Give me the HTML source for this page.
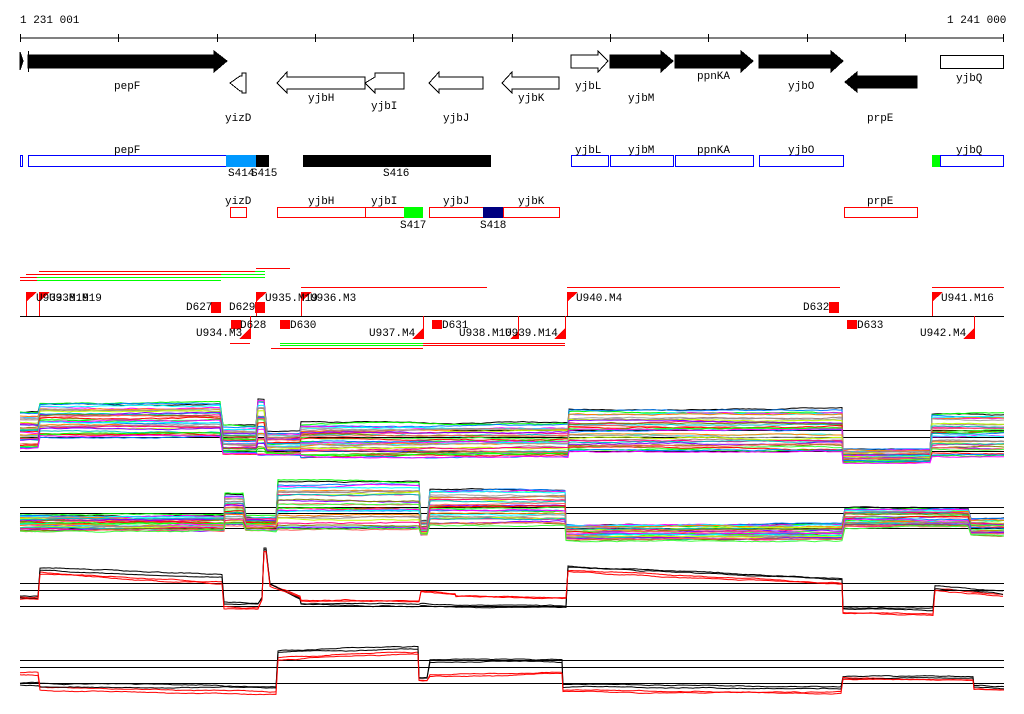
<!DOCTYPE html>
<html><head><meta charset="utf-8"><style>
html,body{margin:0;padding:0;background:#fff}
svg{display:block}
text{font-family:"Liberation Mono","DejaVu Sans Mono",monospace;font-size:11px;fill:#000}
</style></head><body>
<svg id="s" width="1024" height="714" viewBox="0 0 1024 714" xmlns="http://www.w3.org/2000/svg" shape-rendering="crispEdges">
<rect width="1024" height="714" fill="#fff"/>
<text x="20" y="23">1 231 001</text>
<text x="947" y="23">1 241 000</text>
<line x1="20" y1="38" x2="1004" y2="38" stroke="#000"/>
<g stroke="#000"><line x1="20.5" y1="34" x2="20.5" y2="42"/><line x1="118.5" y1="34" x2="118.5" y2="42"/><line x1="217.5" y1="34" x2="217.5" y2="42"/><line x1="315.5" y1="34" x2="315.5" y2="42"/><line x1="413.5" y1="34" x2="413.5" y2="42"/><line x1="512.5" y1="34" x2="512.5" y2="42"/><line x1="610.5" y1="34" x2="610.5" y2="42"/><line x1="708.5" y1="34" x2="708.5" y2="42"/><line x1="807.5" y1="34" x2="807.5" y2="42"/><line x1="905.5" y1="34" x2="905.5" y2="42"/><line x1="1003.5" y1="34" x2="1003.5" y2="42"/></g>
<!-- gene arrows row -->
<g stroke="#000">
<polygon points="20,52 23,61 20,70" fill="#000"/>
<line x1="28.5" y1="51" x2="28.5" y2="72"/>
<polygon points="28,55 214,55 214,51 227,61 214,72 214,68 28,68" fill="#000"/>
<polygon points="246,73 242,73 242,76 240,76 230,83 240,91 242,91 242,93 246,93" fill="#fff"/>
<polygon points="365,77 287,77 287,72 277,83 287,93 287,89 365,89" fill="#fff"/>
<polygon points="404,73 375,73 375,77 365,83 375,93 375,89 404,89" fill="#fff"/>
<polygon points="483,77 439,77 439,72 429,83 439,93 439,89 483,89" fill="#fff"/>
<polygon points="559,77 512,77 512,72 502,83 512,93 512,89 559,89" fill="#fff"/>
<polygon points="571,55 598,55 598,51 608,61 598,72 598,68 571,68" fill="#fff"/>
<polygon points="610,55 661,55 661,51 673,61 661,72 661,68 610,68" fill="#000"/>
<polygon points="675,55 741,55 741,51 753,61 741,72 741,68 675,68" fill="#000"/>
<polygon points="759,55 831,55 831,51 843,61 831,72 831,68 759,68" fill="#000"/>
<polygon points="917,76 857,76 857,72 845,82 857,92 857,88 917,88" fill="#000"/>
<rect x="940.5" y="55.5" width="63" height="13" fill="#fff"/>
</g>
<text x="114" y="89">pepF</text><text x="225" y="121">yizD</text><text x="308" y="101">yjbH</text><text x="371" y="109">yjbI</text><text x="443" y="121">yjbJ</text><text x="518" y="101">yjbK</text><text x="575" y="89">yjbL</text><text x="628" y="101">yjbM</text><text x="697" y="79">ppnKA</text><text x="788" y="89">yjbO</text><text x="867" y="121">prpE</text><text x="956" y="81">yjbQ</text>
<!-- row 2 -->
<g fill="none" stroke="#00f">
<rect x="20.5" y="155.5" width="2" height="11"/>
<rect x="28.5" y="155.5" width="198" height="11"/>
<rect x="571.5" y="155.5" width="37" height="11"/><rect x="610.5" y="155.5" width="63" height="11"/><rect x="675.5" y="155.5" width="78" height="11"/><rect x="759.5" y="155.5" width="84" height="11"/><rect x="940.5" y="155.5" width="63" height="11"/>
</g>
<rect x="226" y="155" width="30" height="12" fill="#0099ff"/>
<rect x="256" y="155" width="13" height="12" fill="#000"/>
<rect x="303" y="155" width="188" height="12" fill="#000"/>
<rect x="932" y="155" width="8" height="12" fill="#00ff00"/>
<text x="114" y="153">pepF</text><text x="575" y="153">yjbL</text><text x="628" y="153">yjbM</text><text x="697" y="153">ppnKA</text><text x="788" y="153">yjbO</text><text x="956" y="153">yjbQ</text>
<text x="228" y="176">S414</text><text x="251" y="176">S415</text><text x="383" y="176">S416</text>
<!-- row 3 -->
<g fill="none" stroke="#f00">
<rect x="230.5" y="207.5" width="16" height="10"/><rect x="277.5" y="207.5" width="88" height="10"/><rect x="365.5" y="207.5" width="39" height="10"/><rect x="429.5" y="207.5" width="54" height="10"/><rect x="503.5" y="207.5" width="56" height="10"/><rect x="844.5" y="207.5" width="73" height="10"/>
</g>
<rect x="404" y="207" width="19" height="11" fill="#00ff00"/>
<rect x="483" y="207" width="20" height="11" fill="#000080"/>
<text x="225" y="204">yizD</text><text x="308" y="204">yjbH</text><text x="371" y="204">yjbI</text><text x="443" y="204">yjbJ</text><text x="518" y="204">yjbK</text><text x="867" y="204">prpE</text>
<text x="400" y="228">S417</text><text x="480" y="228">S418</text>
<!-- features -->
<g stroke-width="1">
<line x1="39" y1="271.5" x2="255" y2="271.5" stroke="#f00"/><line x1="255" y1="271.5" x2="265" y2="271.5" stroke="#0f0"/><line x1="256" y1="268.5" x2="290" y2="268.5" stroke="#f00"/>
<line x1="26" y1="274.5" x2="221" y2="274.5" stroke="#f00"/><line x1="221" y1="274.5" x2="265" y2="274.5" stroke="#0f0"/>
<line x1="20" y1="277.5" x2="265" y2="277.5" stroke="#0f0"/><line x1="20" y1="277.5" x2="37" y2="277.5" stroke="#f00"/>
<line x1="20" y1="280.5" x2="221" y2="280.5" stroke="#0f0"/><line x1="20" y1="280.5" x2="37" y2="280.5" stroke="#f00"/>
<line x1="301" y1="287.5" x2="487" y2="287.5" stroke="#f00"/><line x1="567" y1="287.5" x2="840" y2="287.5" stroke="#f00"/><line x1="932" y1="287.5" x2="1004" y2="287.5" stroke="#f00"/>
<line x1="230" y1="343.5" x2="250" y2="343.5" stroke="#f00"/>
<line x1="280" y1="343.5" x2="423" y2="343.5" stroke="#0f0"/><line x1="280" y1="345.5" x2="423" y2="345.5" stroke="#0f0"/><line x1="423" y1="343.5" x2="565" y2="343.5" stroke="#f00"/><line x1="423" y1="345.5" x2="512" y2="345.5" stroke="#f00"/>
<line x1="271" y1="348.5" x2="423" y2="348.5" stroke="#f00"/><line x1="512" y1="345.5" x2="565" y2="345.5" stroke="#f00"/>
</g>
<line x1="20" y1="316.5" x2="1004" y2="316.5" stroke="#000"/>
<g fill="#f00" stroke="#f00">
<line x1="26.5" y1="292" x2="26.5" y2="316"/><polygon points="26,292 37,292 26,302" stroke="none"/>
<line x1="39.5" y1="292" x2="39.5" y2="316"/><polygon points="39,292 50,292 39,302" stroke="none"/>
<rect x="211" y="302" width="10" height="11" stroke="none"/><rect x="255" y="302" width="10" height="11" stroke="none"/>
<line x1="256.5" y1="292" x2="256.5" y2="316"/><polygon points="256,292 267,292 256,302" stroke="none"/>
<line x1="301.5" y1="292" x2="301.5" y2="316"/><polygon points="301,292 312,292 301,302" stroke="none"/>
<line x1="567.5" y1="292" x2="567.5" y2="316"/><polygon points="567,292 578,292 567,302" stroke="none"/>
<rect x="829" y="302" width="10" height="11" stroke="none"/>
<line x1="932.5" y1="292" x2="932.5" y2="316"/><polygon points="932,292 943,292 932,302" stroke="none"/>
<rect x="231" y="320" width="10" height="9" stroke="none"/><rect x="280" y="320" width="10" height="9" stroke="none"/><rect x="432" y="320" width="10" height="9" stroke="none"/><rect x="847" y="320" width="10" height="9" stroke="none"/>
<line x1="250.5" y1="316" x2="250.5" y2="339"/><polygon points="250,328 250,339 239,339" stroke="none"/>
<line x1="423.5" y1="316" x2="423.5" y2="339"/><polygon points="423,328 423,339 412,339" stroke="none"/>
<line x1="565.5" y1="316" x2="565.5" y2="339"/><polygon points="565,328 565,339 554,339" stroke="none"/>
<line x1="974.5" y1="316" x2="974.5" y2="339"/><polygon points="974,328 974,339 963,339" stroke="none"/>
<line x1="518.5" y1="316" x2="518.5" y2="339"/><polygon points="518,332 518,339 510,339" stroke="none"/>
</g>
<text x="36" y="301">U933.M19</text><text x="49" y="301">U938.M19</text>
<text x="186" y="310">D627</text><text x="229" y="310">D629</text><text x="265" y="301">U935.M19</text><text x="310" y="301">U936.M3</text>
<text x="576" y="301">U940.M4</text><text x="803" y="310">D632</text><text x="941" y="301">U941.M16</text>
<text x="196" y="336">U934.M3</text><text x="240" y="328">D628</text><text x="290" y="328">D630</text><text x="369" y="336">U937.M4</text><text x="442" y="328">D631</text><text x="459" y="336">U938.M10</text><text x="505" y="336">U939.M14</text><text x="857" y="328">D633</text><text x="920" y="336">U942.M4</text>
<!-- plot axes -->
<g stroke="#000">
<line x1="450" y1="430.5" x2="1004" y2="430.5"/><line x1="20" y1="437.5" x2="1004" y2="437.5"/><line x1="20" y1="451.5" x2="1004" y2="451.5"/>
<line x1="20" y1="507.5" x2="1004" y2="507.5"/><line x1="20" y1="513.5" x2="1004" y2="513.5"/><line x1="20" y1="528.5" x2="1004" y2="528.5"/>
<line x1="20" y1="583.5" x2="1004" y2="583.5"/><line x1="20" y1="590.5" x2="1004" y2="590.5"/><line x1="20" y1="606.5" x2="1004" y2="606.5"/>
<line x1="20" y1="660.5" x2="1004" y2="660.5"/><line x1="20" y1="667.5" x2="1004" y2="667.5"/><line x1="20" y1="683.5" x2="1004" y2="683.5"/>
</g>
<g id="plots" fill="none" shape-rendering="auto"></g>
</svg>
<script>
var seed=12345;function r(){seed=(seed*16807)%2147483647;return seed/2147483647;}
var g=document.getElementById('plots');var NS='http://www.w3.org/2000/svg';
function pl(pts,col){var p=document.createElementNS(NS,'polyline');p.setAttribute('points',pts.join(' '));p.setAttribute('stroke',col);p.setAttribute('stroke-width','1');g.appendChild(p);}
var cols=['#f00','#0f0','#0080ff','#f0f','#0ff','#ff8000','#a0a0a0','#a08080','#c0ff00','#ff0080','#00c0c0','#8000ff','#808000','#ff6060','#40ff40'];
function band(segs,N,topc){for(var i=0;i<N;i++){var f=i/(N-1);var pts=[];var j=0;
for(var s=0;s<segs.length;s++){var S=segs[s];var ff=Math.min(1,Math.max(0,f+(r()-0.5)*0.1));
for(var x=S[0];x<=S[1];x+=3){j+=(r()-0.5)*0.8;j=Math.max(-1.5,Math.min(1.5,j));pts.push(x+','+(S[2]+(S[3]-S[2])*ff+j).toFixed(1));}}
pl(pts,i==0?topc:cols[i%cols.length]);}}
band([[20,39,412,450],[40,222,403,438],[223,256,426,455],[258,266,397,455],[267,300,432,456],[301,568,423,458],[569,842,409,452],[843,931,450,462],[932,1004,414,456]],34,'#000');
band([[20,224,515,531],[225,245,494,526],[246,277,516,531],[278,420,481,530],[421,429,520,535],[430,565,489,525],[566,844,524,541],[845,970,508,528],[971,1004,519,536]],30,'#000');
function lines(defs){defs.forEach(function(d){var pts=[];var j=0;d.s.forEach(function(S){for(var x=S[0];x<=S[1];x+=2){var t=(x-S[0])/Math.max(1,S[1]-S[0]);j+=(r()-0.5)*0.6;j=Math.max(-1,Math.min(1,j));pts.push(x+','+(S[2]+(S[3]-S[2])*t+j).toFixed(1));}});pl(pts,d.c);});}
var p3=[];[0,2].forEach(function(o){p3.push({c:'#000',s:[[20,39,596+o,596+o],[40,223,568+o,575+o],[224,258,602+o,603+o],[262,262,598,598],[264,266,549,549],[270,300,583+o,598+o],[301,420,603+o,605+o],[421,455,604+o,606+o],[456,567,606+o,606+o],[568,842,566+o,578+o],[843,934,607+o,608+o],[935,1004,586+o,592+o]]});
p3.push({c:'#f00',s:[[20,39,597+o,597+o],[40,223,572+o,582+o],[224,258,607+o,608+o],[262,262,600,600],[264,266,552,552],[270,300,585+o,596+o],[301,420,600+o,600+o],[421,455,590+o,593+o],[456,567,595+o,597+o],[568,842,570+o,583+o],[843,934,612+o,613+o],[935,1004,588+o,594+o]]});});
lines(p3);
var p4=[];[0,2].forEach(function(o){p4.push({c:'#000',s:[[20,39,683+o,683+o],[40,277,684+o,686+o],[278,418,650+o,647+o],[419,428,678,678],[430,562,660+o,660+o],[563,842,685+o,686+o],[843,973,676+o,677+o],[974,1004,686+o,687+o]]});
p4.push({c:'#f00',s:[[20,39,673+o,673+o],[40,277,688+o,692+o],[278,418,658+o,652+o],[419,428,680,680],[430,562,674+o,672+o],[563,842,690+o,692+o],[843,973,678+o,679+o],[974,1004,688+o,689+o]]});});
lines(p4);
</script>
</body></html>
